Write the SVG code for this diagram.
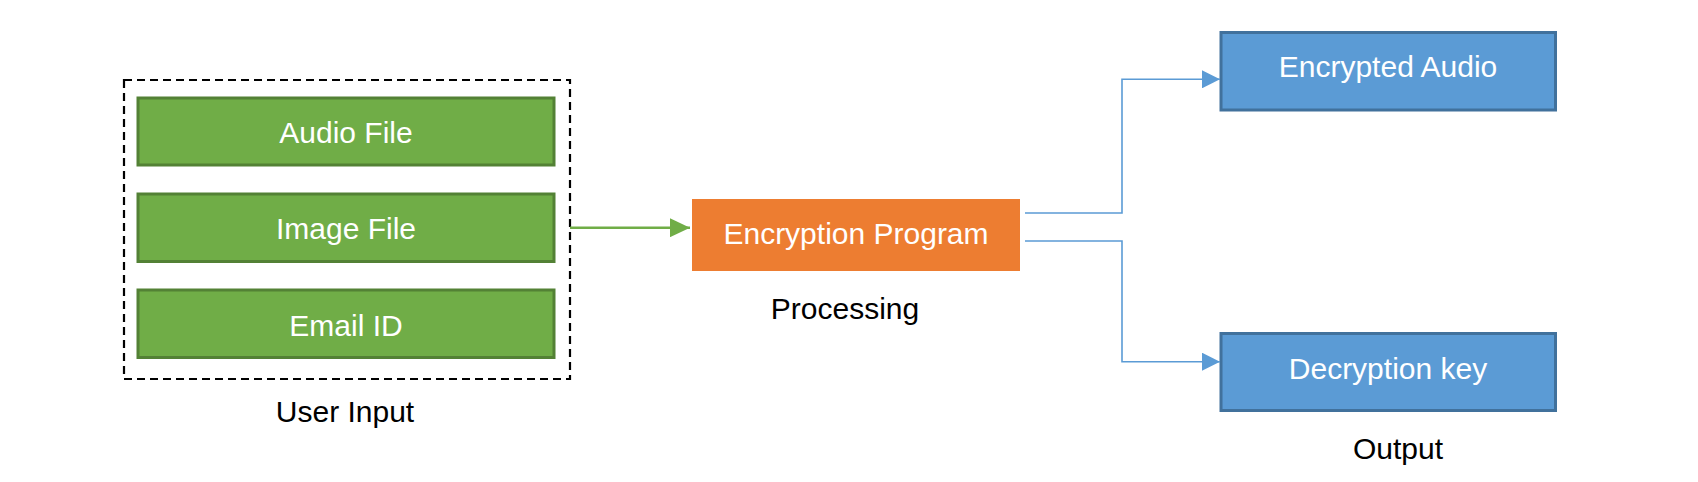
<svg xmlns="http://www.w3.org/2000/svg" width="1698" height="482" viewBox="0 0 1698 482">
<style>
.t{font-family:"Liberation Sans",Arial,sans-serif;font-size:30px;text-anchor:middle}
.w{fill:#ffffff}
.k{fill:#000000}
.g{fill:#70AD47;stroke:#538135;stroke-width:3}
.b{fill:#5B9BD5;stroke:#41719C;stroke-width:3}
.o{fill:#ED7D31}
.bl{fill:none;stroke:#5B9BD5;stroke-width:1.6}
</style>
<defs>
<marker id="ag" markerWidth="20" markerHeight="19" refX="20" refY="9.5" orient="auto" markerUnits="userSpaceOnUse"><path d="M0,0 L20,9.5 L0,19 Z" fill="#70AD47"/></marker>
<marker id="ab" markerWidth="18" markerHeight="18" refX="18" refY="9" orient="auto" markerUnits="userSpaceOnUse"><path d="M0,0 L18,9 L0,18 Z" fill="#5B9BD5"/></marker>
</defs>
<rect width="1698" height="482" fill="#ffffff"/>
<g id="user-input">
<rect x="124" y="80" width="446" height="299" fill="none" stroke="#000" stroke-width="2.2" stroke-dasharray="8,5"/>
<text class="t k" x="345" y="421.5">User Input</text>
</g>
<g id="audio-file"><rect class="g" x="138" y="98" width="416" height="67"/><text class="t w" x="346" y="142.5">Audio File</text></g>
<g id="image-file"><rect class="g" x="138" y="194" width="416" height="67.5"/><text class="t w" x="346" y="239">Image File</text></g>
<g id="email-id"><rect class="g" x="138" y="290" width="416" height="67.5"/><text class="t w" x="346" y="335.5">Email ID</text></g>
<g id="encryption-program">
<rect class="o" x="692" y="199" width="328" height="72"/>
<text class="t w" x="856" y="243.5">Encryption Program</text>
<text class="t k" x="845" y="319">Processing</text>
</g>
<g id="encrypted-audio"><rect class="b" x="1221" y="32.5" width="334.5" height="77.5"/><text class="t w" x="1388" y="76.5">Encrypted Audio</text></g>
<g id="decryption-key">
<rect class="b" x="1221" y="333.5" width="334.5" height="77"/>
<text class="t w" x="1388" y="379">Decryption key</text>
<text class="t k" x="1398" y="459">Output</text>
</g>
<g id="connectors">
<line x1="570" y1="227.7" x2="690" y2="227.7" stroke="#70AD47" stroke-width="2.5" marker-end="url(#ag)"/>
<polyline class="bl" points="1025,213 1122,213 1122,79.3 1220,79.3" marker-end="url(#ab)"/>
<polyline class="bl" points="1025,241 1122,241 1122,361.7 1220,361.7" marker-end="url(#ab)"/>
</g>
</svg>
